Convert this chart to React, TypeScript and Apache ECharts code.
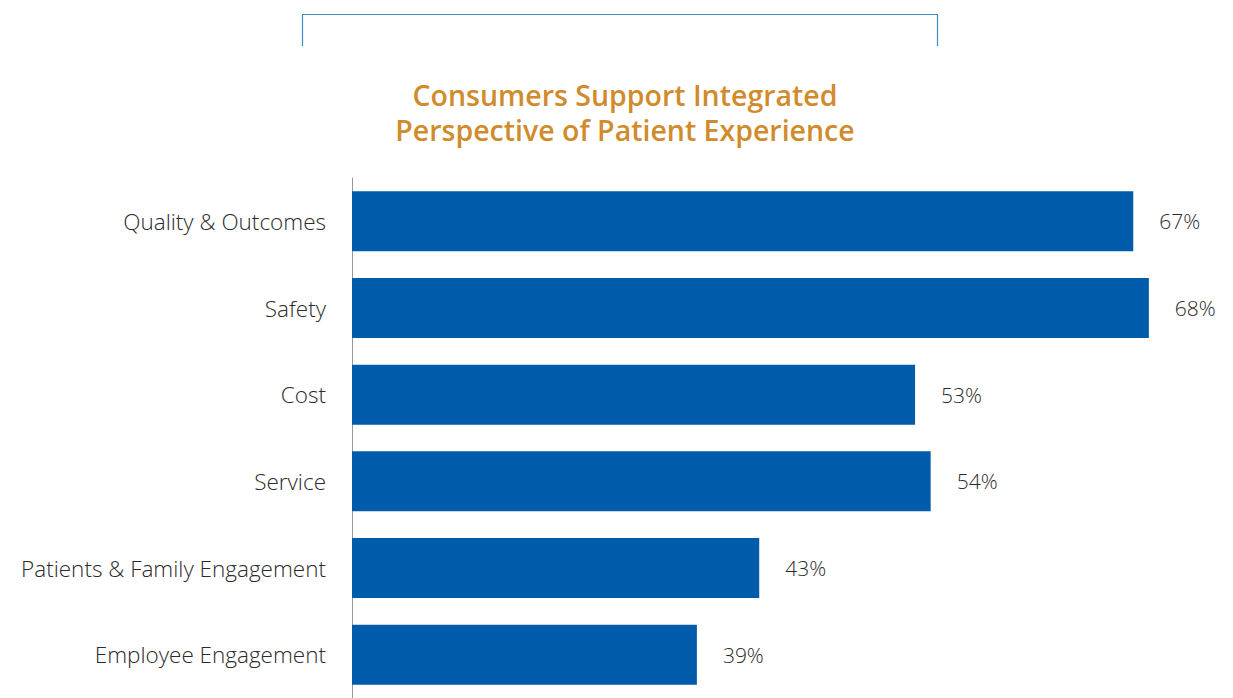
import React, { useEffect, useRef } from "react";
import * as echarts from "echarts";

const categories = [
  "Quality & Outcomes",
  "Safety",
  "Cost",
  "Service",
  "Patients & Family Engagement",
  "Employee Engagement",
];
const values = [67, 68, 53, 54, 43, 39];
const titleLines = ["Consumers Support Integrated", "Perspective of Patient Experience"];

export default function App() {
  const ref = useRef<HTMLDivElement>(null);
  useEffect(() => {
    const chart = echarts.init(ref.current!, undefined, { renderer: "svg" });
    chart.setOption({
      animation: false,
      backgroundColor: "#ffffff",
      title: {
        text: titleLines.join("\n"),
        left: 620,
        top: 72,
        textAlign: "center",
        textStyle: {
          color: "#D08B2C",
          fontSize: 28.5,
          fontWeight: 600,
          fontFamily: "Open Sans",
          lineHeight: 35,
        },
      },
      graphic: [
        {
          type: "polyline",
          shape: { points: [[302.5, 46], [302.5, 14.5], [937.5, 14.5], [937.5, 46]] },
          style: { stroke: "#3E8DCB", lineWidth: 1.2, fill: "none" },
        },
      ],
      grid: { left: 352, right: 55, top: 178, bottom: -4, containLabel: false },
      xAxis: {
        type: "value",
        min: 16.87,
        max: 69.87,
        show: false,
      },
      yAxis: {
        type: "category",
        data: categories,
        inverse: true,
        axisLine: { show: true, lineStyle: { color: "#999999", width: 1 } },
        axisTick: { show: false },
        axisLabel: {
          margin: 26,
          color: "#2a2a2a",
          fontSize: 22.5,
          fontWeight: 300,
          fontFamily: "Open Sans",
          padding: [3, 0, 0, 0],
        },
      },
      series: [
        {
          type: "bar",
          data: values,
          barWidth: 60,
          itemStyle: { color: "#005BAA" },
          label: {
            show: true,
            position: "right",
            distance: 26,
            formatter: "{c}%",
            color: "#2a2a2a",
            fontSize: 21,
            fontWeight: 300,
            fontFamily: "Open Sans",
            padding: [4, 0, 0, 0],
          },
        },
      ],
    });
    return () => chart.dispose();
  }, []);
  return (
    <div
      ref={ref}
      style={{ position: "absolute", left: 0, top: 0, width: 1233, height: 698 }}
    />
  );
}
